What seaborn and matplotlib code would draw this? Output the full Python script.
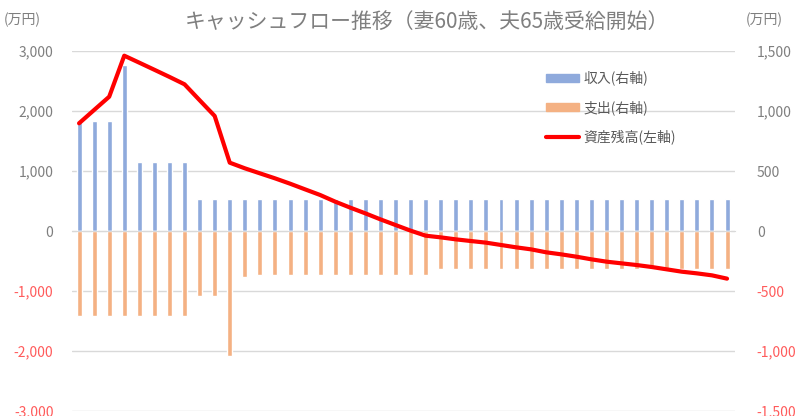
import numpy as np
import pandas as pd
import matplotlib
matplotlib.use('Agg')
import matplotlib.pyplot as plt
import seaborn as sns
from matplotlib.patches import Patch
from matplotlib.lines import Line2D

sns.set_style('white')
plt.rcParams['font.family'] = ['Noto Sans CJK JP', 'DejaVu Sans']

# 44 years of cash flow (万円)
years = [str(i) for i in range(1, 45)]
income = [920, 920, 920, 1380, 575, 575, 575, 575, 270, 270,
          270, 270, 270, 270, 270, 270, 270, 270, 270, 270,
          270, 270, 270, 270, 270, 270, 270, 270, 270, 270,
          270, 270, 270, 270, 270, 270, 270, 270, 270, 270,
          270, 270, 270, 270]
expense = [-705, -705, -705, -705, -705, -705, -705, -705, -542, -542,
           -1039, -386, -367, -367, -367, -367, -367, -367, -367, -367,
           -367, -367, -367, -367, -317, -317, -317, -317, -317, -317,
           -317, -317, -317, -317, -317, -317, -317, -317, -317, -317,
           -317, -317, -317, -317]
balance = [1795, 2017, 2238, 2922, 2805, 2687, 2568, 2445, 2180, 1917,
           1139, 1045, 961, 878, 789, 694, 600, 489, 389, 294,
           194, 100, 6, -78, -106, -139, -167, -194, -233, -272,
           -306, -355, -389, -428, -472, -511, -539, -567, -600, -639,
           -678, -706, -739, -794]

left_ticks = [-3000, -2000, -1000, 0, 1000, 2000, 3000]
right_ticks = [-1500, -1000, -500, 0, 500, 1000, 1500]

labels = ['収入(右軸)', '支出(右軸)', '資産残高(左軸)']
title = 'キャッシュフロー推移（妻60歳、夫65歳受給開始）'

df = pd.DataFrame({'year': years, 'income': income,
                   'expense': expense, 'balance': balance})

blue = '#8FAADC'
orange = '#F4B183'
gray = '#7F7F7F'
neg = '#FF5B5B'

fig = plt.figure(figsize=(8, 4.16), dpi=100)
ax = fig.add_axes([0.0894, 0.012, 0.8288, 0.8654])
ax2 = ax.twinx()

# bars on the right axis
sns.barplot(data=df, x='year', y='income', color=blue, width=0.33,
            saturation=1, ax=ax2)
sns.barplot(data=df, x='year', y='expense', color=orange, width=0.33,
            saturation=1, ax=ax2)

# balance line on the left axis
sns.lineplot(x=np.arange(len(years)), y=df['balance'], color='#FF0000',
             lw=3, ax=ax)

ax.set_zorder(ax2.get_zorder() + 1)
ax.patch.set_visible(False)

ax.set_ylim(-3000, 3000)
ax2.set_ylim(-1500, 1500)
ax.set_xlim(-0.5, len(years) - 0.5)

ax2.yaxis.grid(True, color='#D9D9D9', lw=1)
ax2.set_axisbelow(True)

for s in ax.spines.values():
    s.set_visible(False)
for s in ['top', 'left', 'right']:
    ax2.spines[s].set_visible(False)
ax2.spines['bottom'].set_position(('data', 0))
ax2.spines['bottom'].set_color('#D9D9D9')

ax2.set_xticks(np.arange(-0.5, len(years), 1))
ax2.set_xticklabels([])
ax2.tick_params(axis='x', length=3, color='#D9D9D9', labelbottom=False)
ax.tick_params(axis='x', length=0, labelbottom=False)
ax.set_xlabel('')
ax2.set_xlabel('')
ax.set_ylabel('')
ax2.set_ylabel('')

fmt = lambda v: f'{v:,}'
ax.set_yticks(left_ticks, [fmt(v) for v in left_ticks])
ax2.set_yticks(right_ticks, [fmt(v) for v in right_ticks])
ax.tick_params(axis='y', length=0, pad=13, labelsize=10)
ax2.tick_params(axis='y', length=0, pad=16, labelsize=10)
for t, v in zip(ax.get_yticklabels(), left_ticks):
    t.set_color(neg if v < 0 else gray)
for t, v in zip(ax2.get_yticklabels(), right_ticks):
    t.set_color(neg if v < 0 else gray)

fig.text(0.534, 0.947, title, ha='center', va='center', fontsize=15, color=gray)
fig.text(0.028, 0.952, '(万円)', ha='center', va='center', fontsize=10, color=gray)
fig.text(0.955, 0.952, '(万円)', ha='center', va='center', fontsize=10, color=gray)

handles = [Patch(color=blue), Patch(color=orange),
           Line2D([], [], color='#FF0000', lw=3)]
fig.legend(handles, labels, loc='upper left', bbox_to_anchor=(0.667, 0.86),
           frameon=False, fontsize=10, handlelength=2.4, handleheight=0.5,
           labelspacing=1.05, handletextpad=0.3, labelcolor='#595959')

fig.savefig('out.png', dpi=100)
